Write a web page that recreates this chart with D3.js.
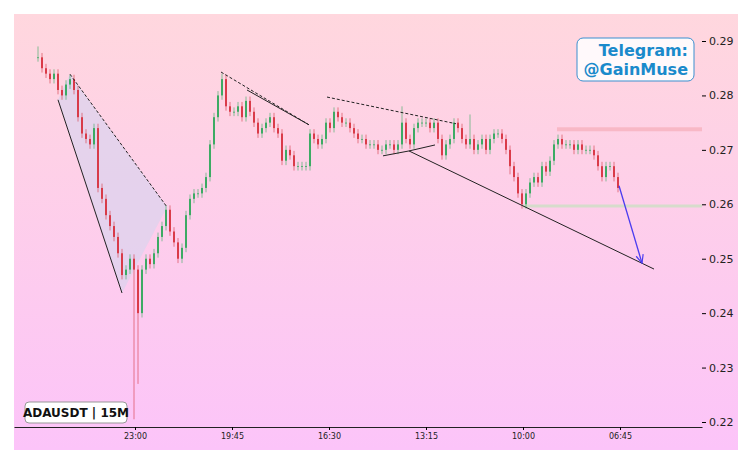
<!DOCTYPE html>
<html lang="en">
<head>
<meta charset="UTF-8">
<title>ADAUSDT 15M</title>
<script src="https://cdn.jsdelivr.net/npm/d3@7"></script>
<style>
  body { margin: 0; background: #fff; font-family: "DejaVu Sans", sans-serif; }
</style>
</head>
<body>
<svg id="chart" width="752" height="463"></svg>
<script>
// closes, one candle every index step (open = previous close)
const closes = [
  0.287, 0.285, 0.284, 0.283, 0.284, 0.281, 0.280, 0.282, 0.283, 0.281,
  0.276, 0.273, 0.272, 0.271, 0.274, 0.263, 0.261, 0.258, 0.256, 0.254,
  0.251, 0.247, 0.248, 0.250, 0.248, 0.240, 0.248, 0.250, 0.249, 0.251,
  0.254, 0.256, 0.259, 0.255, 0.253, 0.250, 0.252, 0.258, 0.261, 0.262,
  0.262, 0.263, 0.265, 0.271, 0.276, 0.280, 0.283, 0.278, 0.277, 0.277,
  0.278, 0.276, 0.279, 0.277, 0.275, 0.273, 0.274, 0.275, 0.276, 0.274,
  0.273, 0.268, 0.270, 0.269, 0.267, 0.267, 0.267, 0.267, 0.273, 0.272,
  0.271, 0.272, 0.275, 0.274, 0.277, 0.276, 0.275, 0.275, 0.274, 0.273,
  0.272, 0.272, 0.271, 0.271, 0.271, 0.270, 0.270, 0.271, 0.271, 0.270,
  0.271, 0.275, 0.272, 0.271, 0.274, 0.275, 0.275, 0.275, 0.274, 0.275,
  0.272, 0.269, 0.271, 0.272, 0.275, 0.274, 0.272, 0.271, 0.272, 0.270,
  0.271, 0.272, 0.270, 0.272, 0.273, 0.273, 0.272, 0.270, 0.267, 0.265,
  0.262, 0.260, 0.262, 0.264, 0.265, 0.264, 0.267, 0.266, 0.268, 0.271,
  0.272, 0.271, 0.271, 0.271, 0.270, 0.271, 0.270, 0.270, 0.270, 0.269,
  0.267, 0.265, 0.267, 0.267, 0.265, 0.263
];
// extreme wicks [index, price]
const spikeHighs = [[0, 0.289], [46, 0.284], [91, 0.278], [108, 0.2765]];
const spikeLows = [[24, 0.2205], [25, 0.227], [118, 0.2655]];

const yTicks = [0.22, 0.23, 0.24, 0.25, 0.26, 0.27, 0.28, 0.29];
const xTickIdx = [24.25, 48.5, 72.75, 97, 121.25, 145.5];
const xTickLabels = ["23:00", "19:45", "16:30", "13:15", "10:00", "06:45"];

// annotations, [index, price]
const wedgeLow = [[5, 0.2792], [21, 0.2437]];
const wedgeHigh = [[8, 0.2839], [32.25, 0.2595]];
const dashA = [[45.75, 0.2843], [67.75, 0.2746]];
const solidA = [[52.25, 0.2810], [67.75, 0.2746]];
const dashB = [[72.25, 0.2797], [104.5, 0.2748]];
const smallTri = [[86.25, 0.2689], [92.75, 0.2698], [99.25, 0.2709]];
const longLine = [[92.75, 0.2698], [154, 0.2481]];
const resistance = [[129.75, 0.2738], [166, 0.2738]];
const support = [[121.25, 0.2597], [166, 0.2597]];
const arrow = [[145.25, 0.2634], [151, 0.2492]];

const svg = d3.select("#chart");
const L = 14, R = 702, T = 14, B = 427;

const defs = svg.append("defs");
const grad = defs.append("linearGradient").attr("id", "bg")
  .attr("x1", 0).attr("y1", 0).attr("x2", 0).attr("y2", 1);
grad.append("stop").attr("offset", 0).attr("stop-color", "#ffd7de");
grad.append("stop").attr("offset", 1).attr("stop-color", "#fcc4f9");
defs.append("marker").attr("id", "arr").attr("viewBox", "0 0 10 10")
  .attr("refX", 9).attr("refY", 5).attr("markerWidth", 7).attr("markerHeight", 7)
  .attr("orient", "auto")
  .append("path").attr("d", "M0,1 L9,5 L0,9").attr("fill", "none")
  .attr("stroke", "#4b3cf0").attr("stroke-width", 1.3);

svg.append("rect").attr("x", 14).attr("y", 14).attr("width", 724).attr("height", 436)
  .attr("fill", "url(#bg)");

const x = d3.scaleLinear().domain([-6, 166]).range([L, R]);
const y = d3.scaleLinear().domain([0.22, 0.29]).range([422, 41]);

// y axis on the right
const ya = svg.append("g").attr("transform", `translate(${R},0)`)
  .call(d3.axisRight(y).tickValues(yTicks).tickFormat(d3.format(".2f")).tickSize(4).tickPadding(3));
ya.select(".domain").remove();
ya.selectAll("text").attr("font-size", 11).attr("fill", "#222").attr("font-family", "DejaVu Sans");

const xa = svg.append("g").attr("transform", `translate(0,${B})`)
  .call(d3.axisBottom(x).tickValues(xTickIdx).tickFormat((d, i) => xTickLabels[i]).tickSize(3).tickSizeOuter(0));
xa.select(".domain").attr("stroke", "#222");
xa.selectAll("text").attr("font-size", 8).attr("fill", "#222").attr("font-family", "DejaVu Sans");

// wedge fill
const line = d3.line().x(d => x(d[0])).y(d => y(d[1]));
svg.append("path")
  .attr("d", line([wedgeLow[0], wedgeHigh[0], wedgeHigh[1], wedgeLow[1]]) + "Z")
  .attr("fill", "#dcd3ee").attr("opacity", 0.75);

// horizontal levels
svg.append("path").attr("d", line(resistance)).attr("stroke", "#f8b8c6").attr("stroke-width", 4).attr("fill", "none");
svg.append("path").attr("d", line(support)).attr("stroke", "#d6dccb").attr("stroke-width", 3).attr("fill", "none");

// candles
const candles = closes.map((c, i) => {
  const o = i === 0 ? c : closes[i - 1];
  return { i, o, c, h: Math.max(o, c) + 0.0008, l: Math.min(o, c) - 0.0008 };
});
spikeHighs.forEach(([i, p]) => candles[i].h = p);
spikeLows.forEach(([i, p]) => candles[i].l = p);

const cg = svg.append("g");
cg.selectAll("line").data(candles).join("line")
  .attr("x1", d => x(d.i)).attr("x2", d => x(d.i))
  .attr("y1", d => y(d.h)).attr("y2", d => y(d.l))
  .attr("stroke", d => d.c >= d.o ? "#45b06a" : "#d9434f").attr("stroke-width", 0.8).attr("opacity", 0.8);
cg.selectAll("rect").data(candles).join("rect")
  .attr("x", d => x(d.i) - 0.9).attr("width", 1.8)
  .attr("y", d => y(Math.max(d.o, d.c)))
  .attr("height", d => Math.max(0.8, Math.abs(y(d.o) - y(d.c))))
  .attr("fill", d => d.c >= d.o ? "#2fa85a" : "#d8303d");

// trend lines
const stroke = (pts, dash, w) => svg.append("path").attr("d", line(pts))
  .attr("fill", "none").attr("stroke", "#222").attr("stroke-width", w || 1)
  .attr("stroke-dasharray", dash ? "3,2" : null);
stroke(wedgeLow, false);
stroke(wedgeHigh, true);
stroke(dashA, true);
stroke(solidA, false);
stroke(dashB, true);
stroke(smallTri, false);
stroke(longLine, false);

svg.append("path").attr("d", line(arrow)).attr("stroke", "#4b3cf0").attr("stroke-width", 1.3)
  .attr("fill", "none").attr("marker-end", "url(#arr)");

// labels
svg.append("rect").attr("x", 577).attr("y", 38).attr("width", 117).attr("height", 43).attr("rx", 6)
  .attr("fill", "#fff").attr("fill-opacity", 0.85).attr("stroke", "#3a8fcf").attr("stroke-width", 1);
const tg = svg.append("text").attr("text-anchor", "end").attr("font-weight", "bold")
  .attr("font-size", 16).attr("fill", "#1a8acb").attr("font-family", "DejaVu Sans");
tg.append("tspan").attr("x", 688).attr("y", 56).text("Telegram:");
tg.append("tspan").attr("x", 688).attr("y", 75).text("@GainMuse");

svg.append("rect").attr("x", 25).attr("y", 402).attr("width", 102).attr("height", 21).attr("rx", 4)
  .attr("fill", "#fff").attr("stroke", "#999");
svg.append("text").attr("x", 76).attr("y", 417).attr("text-anchor", "middle")
  .attr("font-weight", "bold").attr("font-size", 12).attr("fill", "#111")
  .attr("font-family", "DejaVu Sans").text("ADAUSDT | 15M");
</script>
</body>
</html>
